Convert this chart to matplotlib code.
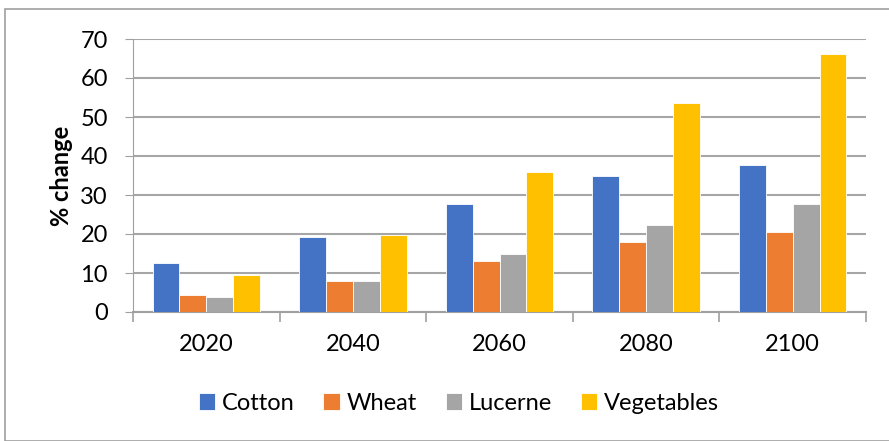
import matplotlib
matplotlib.use("Agg")
import matplotlib.pyplot as plt
import numpy as np
from matplotlib.patches import Rectangle

years = ["2020", "2040", "2060", "2080", "2100"]
series_names = ["Cotton", "Wheat", "Lucerne", "Vegetables"]
cotton = [12.6, 19.2, 27.6, 34.9, 37.7]
wheat = [4.3, 7.9, 13.2, 17.9, 20.5]
lucerne = [3.8, 7.9, 14.8, 22.2, 27.6]
vegetables = [9.5, 19.8, 35.9, 53.5, 66.2]
colors = ["#4472C4", "#ED7D31", "#A5A5A5", "#FFC000"]
yticks = [0, 10, 20, 30, 40, 50, 60, 70]

plt.rcParams['font.family'] = ['Lato', 'DejaVu Sans']

fig = plt.figure(figsize=(8.89, 4.41), dpi=100)
ax = fig.add_axes([133/889, 1-312/441, (866-133)/889, (312-39)/441])

fig.patches.append(Rectangle((5/889, 0.0), 1.0, 1-9/441, transform=fig.transFigure,
                             fill=False, edgecolor="#A0A0A0", linewidth=1.2))

data = [cotton, wheat, lucerne, vegetables]
x = np.arange(len(years))
bw = 0.183
for i, (name, vals, c) in enumerate(zip(series_names, data, colors)):
    ax.bar(x + (i - 1.5) * bw, vals, width=bw, color=c, label=name,
           edgecolor="white", linewidth=0.6, zorder=3)

ax.set_xlim(-0.5, len(years) - 0.5)
ax.set_ylim(0, 70)
ax.set_yticks(yticks)
ax.set_yticklabels([str(v) for v in yticks], fontsize=17)
ax.set_xticks(x)
ax.set_xticklabels(years, fontsize=17)
ax.tick_params(axis='x', length=0, pad=16)
ax.tick_params(axis='y', length=6, color="#A0A0A0", pad=12)
ax.set_xticks(np.arange(-0.5, len(years) + 0.5, 1), minor=True)
ax.tick_params(axis='x', which='minor', length=7, color="#A0A0A0", width=1.2)
ax.grid(axis='y', color="#A6A6A6", linewidth=1.5, zorder=0)
for s in ["top", "right"]:
    ax.spines[s].set_visible(False)
ax.spines["left"].set_color("#A0A0A0")
ax.spines["bottom"].set_color("#A0A0A0")
ax.spines["bottom"].set_linewidth(1.5)
ax.set_ylabel("% change", fontsize=17, fontweight="bold", labelpad=5)

fig.legend(loc="center", bbox_to_anchor=(459/889, 1-403/441), ncol=4, frameon=False,
           fontsize=17, handlelength=0.7, handleheight=0.7, handletextpad=0.3,
           columnspacing=1.2)

fig.savefig("out.png", dpi=100)
